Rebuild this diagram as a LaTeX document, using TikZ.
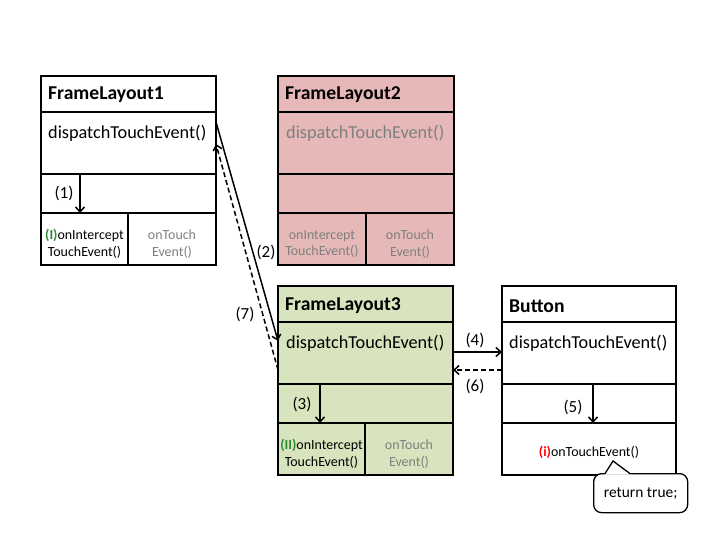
\documentclass[tikz,border=0pt]{standalone}
\usepackage{fontspec}
\setmainfont{Carlito}
\usetikzlibrary{arrows.meta}
\definecolor{pinkfill}{HTML}{E6B9B8}
\definecolor{greenfill}{HTML}{D7E4BD}
\definecolor{graytext}{HTML}{7F7F7F}
\definecolor{mygreen}{HTML}{2E8B2E}
\definecolor{myred}{HTML}{FF0000}
\begin{document}
\begin{tikzpicture}[x=1bp,y=-1bp,
 comp/.style={draw, line width=1.9bp, inner sep=0pt, outer sep=0pt, anchor=north west},
 titletext/.style={font=\fontsize{19.7}{22}\selectfont\bfseries, anchor=west, inner sep=0pt},
 disptext/.style={font=\fontsize{18.3}{21}\selectfont, anchor=west, inner sep=0pt},
 smalltext/.style={font=\fontsize{14}{17}\selectfont, align=center, inner sep=0pt},
 numlabel/.style={font=\fontsize{17}{20}\selectfont, inner sep=0pt},
 arr/.style={line width=1.5bp, -{Straight Barb[length=5bp,width=9bp]}},
 darr/.style={arr, dash pattern=on 5bp off 3bp},
]
\useasboundingbox[fill=white] (0,0) rectangle (720,540);

% FrameLayout1
\node[comp, minimum width=175bp, minimum height=36bp] (fl1t) at (41,76) {};
\node[comp, minimum width=175bp, minimum height=62bp] (fl1d) at (41,112) {};
\node[comp, minimum width=175bp, minimum height=39bp] (fl1m) at (41,174) {};
\node[comp, minimum width=87bp, minimum height=52bp] (fl1a) at (41,213) {};
\node[comp, minimum width=88bp, minimum height=52bp] (fl1b) at (128,213) {};
\node[titletext] (fl1tt) at (48,95) {FrameLayout1};
\node[disptext] (fl1dt) at (48,133) {dispatchTouchEvent()};
\node[smalltext] (fl1at) at ([yshift=-5bp]fl1a.center) {\textcolor{mygreen}{\bfseries(I)}onIntercept\\TouchEvent()};
\node[smalltext, text=graytext] (fl1bt) at ([yshift=-5bp]fl1b.center) {onTouch\\Event()};

% FrameLayout2
\node[comp, fill=pinkfill, minimum width=176bp, minimum height=36bp] (fl2t) at (278,76) {};
\node[comp, fill=pinkfill, minimum width=176bp, minimum height=62bp] (fl2d) at (278,112) {};
\node[comp, fill=pinkfill, minimum width=176bp, minimum height=39bp] (fl2m) at (278,174) {};
\node[comp, fill=pinkfill, minimum width=88bp, minimum height=52bp] (fl2a) at (278,213) {};
\node[comp, fill=pinkfill, minimum width=88bp, minimum height=52bp] (fl2b) at (366,213) {};
\node[titletext] (fl2tt) at (285,95) {FrameLayout2};
\node[disptext, text=graytext] (fl2dt) at (286,133) {dispatchTouchEvent()};
\node[smalltext, text=graytext] (fl2at) at ([yshift=-5bp]fl2a.center) {onIntercept\\TouchEvent()};
\node[smalltext, text=graytext] (fl2bt) at ([yshift=-5bp]fl2b.center) {onTouch\\Event()};

% FrameLayout3
\node[comp, fill=greenfill, minimum width=175bp, minimum height=36bp] (fl3t) at (278,286) {};
\node[comp, fill=greenfill, minimum width=175bp, minimum height=62bp] (fl3d) at (278,322) {};
\node[comp, fill=greenfill, minimum width=175bp, minimum height=39bp] (fl3m) at (278,384) {};
\node[comp, fill=greenfill, minimum width=87bp, minimum height=52bp] (fl3a) at (278,423) {};
\node[comp, fill=greenfill, minimum width=88bp, minimum height=52bp] (fl3b) at (365,423) {};
\node[titletext] (fl3tt) at (285,306) {FrameLayout3};
\node[disptext] (fl3dt) at (286,343) {dispatchTouchEvent()};
\node[smalltext] (fl3at) at ([yshift=-5bp]fl3a.center) {\textcolor{mygreen}{\bfseries(II)}onIntercept\\TouchEvent()};
\node[smalltext, text=graytext] (fl3bt) at ([yshift=-5bp]fl3b.center) {onTouch\\Event()};

% Button
\node[comp, minimum width=174bp, minimum height=36bp] (btt) at (502,286) {};
\node[comp, minimum width=174bp, minimum height=62bp] (btd) at (502,322) {};
\node[comp, minimum width=174bp, minimum height=39bp] (btm) at (502,384) {};
\node[comp, minimum width=174bp, minimum height=52bp] (bta) at (502,423) {};
\node[titletext] (bttt) at (509,306) {Button};
\node[disptext] (btdt) at (509,343) {dispatchTouchEvent()};
\node[smalltext] (btat) at ([yshift=-3bp]bta.center) {\textcolor{myred}{\bfseries(i)}onTouchEvent()};

% callout
\node[draw, fill=white, rounded corners=8bp, line width=1.3bp, minimum width=94bp, minimum height=39bp, anchor=north west, inner sep=0pt, font=\fontsize{15.5}{18}\selectfont] (ret) at (593,473) {return true;};
\fill[white] (605,474.5) -- (613,461) -- (630,474.5) -- cycle;
\draw[line width=1.3bp, line join=miter] (605,473.6) -- (613,461) -- (630,473.6);

% arrows
\draw[arr] ([yshift=-10bp]fl1d.north east) -- ([yshift=-19bp]fl3d.north west);
\draw[darr] ([yshift=14bp]fl3d.south west) -- ([yshift=-32bp]fl1d.north east);
\draw[arr] ([yshift=1bp]fl3d.east) -- ([yshift=1bp]btd.west);
\draw[darr] ([yshift=-17bp]btd.west) -- ([yshift=-17bp]fl3d.east);
\draw[arr] ([xshift=39bp]fl1m.north west) -- ([xshift=39bp]fl1m.south west);
\draw[arr] ([xshift=42bp]fl3m.north west) -- ([xshift=42bp]fl3m.south west);
\draw[arr] ([xshift=91bp]btm.north west) -- ([xshift=91bp]btm.south west);

% labels
\node[numlabel] (l1) at (64,193) {(1)};
\node[numlabel] (l2) at (266,252) {(2)};
\node[numlabel] (l7) at (245,314) {(7)};
\node[numlabel] (l3) at (302,404) {(3)};
\node[numlabel] (l4) at (475,340) {(4)};
\node[numlabel] (l6) at (475,386) {(6)};
\node[numlabel] (l5) at (573,407) {(5)};
\end{tikzpicture}
\end{document}
